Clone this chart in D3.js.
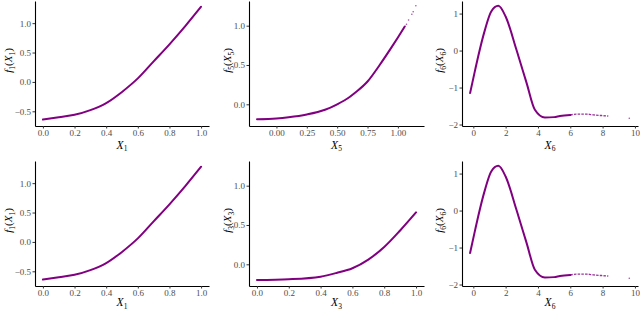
<!DOCTYPE html>
<html>
<head>
<meta charset="utf-8">
<script src="https://cdn.jsdelivr.net/npm/d3@7"></script>
<style>
  body { margin: 0; background: #fff; }
  svg text { font-family: "Liberation Serif", "DejaVu Serif", serif; }
  .tick text { fill: #4d4d4d; font-size: 9px; }
  .tick line { stroke: #333; }
  .domain { stroke: #000; stroke-width: 1.1px; }
</style>
</head>
<body>
<svg id="chart" width="640" height="309"></svg>
<script>
// f1(X1) - same function in both left panels
const x1Vals = [0, 0.1, 0.2, 0.3, 0.4, 0.5, 0.6, 0.7, 0.8, 0.9, 1.0];
const f1Vals = [-0.64, -0.60, -0.56, -0.48, -0.36, -0.17, 0.06, 0.35, 0.64, 0.95, 1.28];

// f5(X5) - main curve + a few sparse points at the top end
const x5Vals = [-0.16, 0, 0.1, 0.25, 0.4, 0.5, 0.6, 0.65, 0.75, 0.85, 0.95, 1.0, 1.057];
const f5Vals = [-0.19, -0.18, -0.165, -0.13, -0.07, 0.0, 0.09, 0.15, 0.29, 0.50, 0.73, 0.85, 0.99];
const x5Sparse = [1.071, 1.088, 1.115, 1.126, 1.148];
const f5Sparse = [1.018, 1.073, 1.145, 1.178, 1.254];

// f6(X6) - bump, then a flat sparse tail
const x6Vals = [-0.2, 0.1, 0.3, 0.72, 1.1, 1.55, 2.0, 2.67, 3.3, 3.81, 4.43, 5.0, 5.36, 6.0];
const f6Vals = [-1.15, -0.55, -0.16, 0.56, 1.05, 1.21, 0.92, 0.02, -0.88, -1.6, -1.81, -1.80, -1.77, -1.74];
const x6Tail = [6.0, 6.39, 7.0, 7.42, 8.0, 8.35];
const f6Tail = [-1.74, -1.72, -1.72, -1.74, -1.76, -1.77];
const x6Sparse = [9.65];
const f6Sparse = [-1.83];

// f3(X3)
const x3Vals = [0, 0.2, 0.4, 0.5, 0.6, 0.7, 0.8, 0.9, 1.0];
const f3Vals = [-0.2, -0.19, -0.157, -0.11, -0.05, 0.06, 0.22, 0.43, 0.66];

// tick labels
const unitTicks = [0, 0.2, 0.4, 0.6, 0.8, 1.0];
const quarterTicks = [0, 0.25, 0.5, 0.75, 1.0];
const x6Ticks = [0, 2, 4, 6, 8, 10];
const f1Ticks = [-0.5, 0, 0.5, 1.0];
const fSmallTicks = [0, 0.5, 1.0];
const f6Ticks = [-2, -1, 0, 1];

const purple = "#800080";
const svg = d3.select("#chart");

// panel layout
const cols = [
  { left: 35, right: 209, ylab: 9 },
  { left: 249, right: 424, ylab: 228 },
  { left: 462, right: 638, ylab: 440 }
];
const rows = [
  { top: 1, bottom: 126, title: 148.5 },
  { top: 161, bottom: 286, title: 306 }
];

const zip = (xs, ys) => xs.map((x, i) => [x, ys[i]]);

const panels = [
  { row: 0, col: 0, xDom: [-0.05, 1.05], yDom: [-0.75, 1.377], xT: unitTicks, yT: f1Ticks, xF: ".1f", yF: ".1f",
    curve: zip(x1Vals, f1Vals), k: "1" },
  { row: 0, col: 1, xDom: [-0.226, 1.215], yDom: [-0.276, 1.314], xT: quarterTicks, yT: fSmallTicks, xF: ".2f", yF: ".1f",
    curve: zip(x5Vals, f5Vals), dots: zip(x5Sparse, f5Sparse), k: "5" },
  { row: 0, col: 2, xDom: [-0.7, 10.19], yDom: [-2.04, 1.34], xT: x6Ticks, yT: f6Ticks, xF: "d", yF: "d",
    curve: zip(x6Vals, f6Vals), tail: zip(x6Tail, f6Tail), dots: zip(x6Sparse, f6Sparse), k: "6" },
  { row: 1, col: 0, xDom: [-0.05, 1.05], yDom: [-0.75, 1.377], xT: unitTicks, yT: f1Ticks, xF: ".1f", yF: ".1f",
    curve: zip(x1Vals, f1Vals), k: "1" },
  { row: 1, col: 1, xDom: [-0.05, 1.05], yDom: [-0.276, 1.314], xT: unitTicks, yT: fSmallTicks, xF: ".1f", yF: ".1f",
    curve: zip(x3Vals, f3Vals), k: "3" },
  { row: 1, col: 2, xDom: [-0.7, 10.19], yDom: [-2.04, 1.34], xT: x6Ticks, yT: f6Ticks, xF: "d", yF: "d",
    curve: zip(x6Vals, f6Vals), tail: zip(x6Tail, f6Tail), dots: zip(x6Sparse, f6Sparse), k: "6" }
];

// writes f_k(X_k) or X_k with subscripts into a text element
function mathLabel(sel, withF, k) {
  if (withF) {
    sel.append("tspan").style("font-style", "italic").text("f");
    sel.append("tspan").attr("font-size", "7.5px").attr("dy", 2.5).text(k);
    sel.append("tspan").attr("dy", -2.5).text("(");
  }
  sel.append("tspan").style("font-style", "italic").text("X");
  sel.append("tspan").attr("font-size", "7.5px").attr("dy", 2.5).text(k);
  if (withF) sel.append("tspan").attr("dy", -2.5).text(")");
}

panels.forEach(p => {
  const c = cols[p.col], r = rows[p.row];
  const x = d3.scaleLinear().domain(p.xDom).range([c.left, c.right]);
  const y = d3.scaleLinear().domain(p.yDom).range([r.bottom, r.top]);

  const line = d3.line().x(d => x(d[0])).y(d => y(d[1])).curve(d3.curveMonotoneX);

  svg.append("path")
    .datum(p.curve)
    .attr("d", line)
    .attr("fill", "none")
    .attr("stroke", purple)
    .attr("stroke-width", 2)
    .attr("stroke-linecap", "round");

  if (p.tail) {
    svg.append("path")
      .datum(p.tail)
      .attr("d", line)
      .attr("fill", "none")
      .attr("stroke", purple)
      .attr("stroke-opacity", 0.8)
      .attr("stroke-width", 1.4)
      .attr("stroke-dasharray", "2.5,1.2");
  }

  if (p.dots) {
    svg.append("g").selectAll("circle")
      .data(p.dots)
      .enter()
      .append("circle")
      .attr("cx", d => x(d[0]))
      .attr("cy", d => y(d[1]))
      .attr("r", 0.8)
      .attr("fill", purple)
      .attr("opacity", 0.7);
  }

  svg.append("g")
    .attr("transform", `translate(0,${r.bottom})`)
    .call(d3.axisBottom(x).tickValues(p.xT).tickFormat(d3.format(p.xF)).tickSize(2.5).tickSizeOuter(0).tickPadding(1));

  svg.append("g")
    .attr("transform", `translate(${c.left},0)`)
    .call(d3.axisLeft(y).tickValues(p.yT).tickFormat(d3.format(p.yF)).tickSize(2.5).tickSizeOuter(0).tickPadding(1.5));

  // axis titles
  svg.append("text")
    .attr("x", (c.left + c.right) / 2)
    .attr("y", r.title)
    .attr("text-anchor", "middle")
    .attr("font-size", "11.5px")
    .call(mathLabel, false, p.k);

  svg.append("text")
    .attr("transform", `translate(${c.ylab},${(r.top + r.bottom) / 2 - 3}) rotate(-90)`)
    .attr("dy", "0.3em")
    .attr("text-anchor", "middle")
    .attr("font-size", "11px")
    .call(mathLabel, true, p.k);
});
</script>
</body>
</html>
